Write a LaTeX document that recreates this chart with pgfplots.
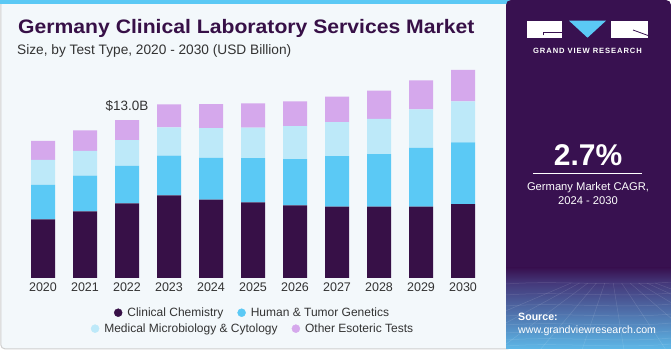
\documentclass[border=0pt]{standalone}
\usepackage{pgfplots}
\pgfplotsset{compat=1.18}
\usepackage{fontspec}
\setmainfont{Liberation Sans}
\definecolor{cc}{HTML}{371047}
\definecolor{htg}{HTML}{5BC9F5}
\definecolor{mmc}{HTML}{BDE9F9}
\definecolor{oet}{HTML}{D5A8EC}
\definecolor{bgl}{HTML}{F3F8FB}
\definecolor{panel}{HTML}{381150}
\definecolor{panelmid}{HTML}{44387A}
\definecolor{panelbot}{HTML}{5DB8E8}
\definecolor{txt}{HTML}{333333}
\definecolor{bord}{HTML}{CFCFCF}
\begin{document}
\begin{tikzpicture}[x=1pt,y=1pt]
\fill[white] (0,0) rectangle (671,350);
\fill[bgl, draw=bord, line width=1pt, rounded corners=4pt] (0.8,1.2) rectangle (512,349.5);
\fill[htg] (0,346) rectangle (510,350);
% right panel
\fill[panel, rounded corners=5pt] (506,1) rectangle (671,350);
\shade[top color=panel, bottom color=panelmid] (506,67) rectangle (671,82);
\shade[top color=panelmid, bottom color=panelbot] (506,1) rectangle (671,67);
\begin{scope}
\clip (506,1) rectangle (671,67);
\foreach \yy in {4,10,17,25,34,44,55,66} {\draw[white, opacity=0.13, line width=0.5pt] (506,\yy) .. controls (560,\yy+4) and (620,\yy-3) .. (671,\yy+2);}
\foreach \xx in {-60,-30,0,30,60,90,120,150,180,210,240} {\draw[white, opacity=0.13, line width=0.5pt] (588+\xx*0.28,67) -- (588+\xx*1.4-90,0);}
\end{scope}
% logo
\fill[white] (527,329.3) rectangle (562,312.3);
\draw[panel, line width=0.8pt] (543,314.5) -- (543,318) -- (561.5,318);
\fill[htg] (569,329.3) -- (606,329.3) -- (587.5,312.3) -- cycle;
\fill[white] (611,329.3) rectangle (648,312.3);
\draw[panel, line width=0.8pt] (633,320) -- (648,314.5);
\node[white, font=\fontsize{7.6}{9}\selectfont\bfseries\addfontfeatures{LetterSpace=12}, anchor=base] at (587.5,296.5) {GRAND VIEW RESEARCH};
\node[white, font=\fontsize{30}{34}\selectfont\bfseries, anchor=base] at (588,184.3) {2.7\%};
\draw[white, line width=1pt] (533,176.3) -- (642,176.3);
\node[white, font=\fontsize{11.2}{13}\selectfont, anchor=base] at (588,159.3) {Germany Market CAGR,};
\node[white, font=\fontsize{11.2}{13}\selectfont, anchor=base] at (588,145) {2024 - 2030};
\node[white, font=\fontsize{10.6}{12}\selectfont\bfseries, anchor=base west, inner sep=0pt] at (518,29.3) {Source:};
\node[white, font=\fontsize{10.6}{12}\selectfont, anchor=base west, inner sep=0pt] at (518,16) {www.grandviewresearch.com};
% titles
\node[cc, font=\fontsize{19.5}{22}\selectfont\bfseries, anchor=base west, inner sep=0pt] at (18,316) {\scalebox{1.085}[1]{Germany Clinical Laboratory Services Market}};
\node[txt, font=\fontsize{13.7}{16}\selectfont, anchor=base west, inner sep=0pt] at (17,295.7) {Size, by Test Type, 2020 - 2030 (USD Billion)};
\begin{axis}[
  at={(22pt,72pt)}, anchor=south west,
  scale only axis, width=462pt, height=218.34pt,
  ybar stacked, bar width=24pt,
  xmin=-0.5, xmax=10.5, ymin=0, ymax=18,
  axis line style={draw=none}, major tick length=0pt,
  ytick=\empty,
  xtick={0,...,10},
  xticklabels={2020,2021,2022,2023,2024,2025,2026,2027,2028,2029,2030},
  xticklabel style={font=\fontsize{12.5}{14}\selectfont, text=txt, yshift=-1.5pt},
  legend style={at={(0.499,-0.159)}, anchor=center, draw=none, fill=none,
    font=\fontsize{12}{14}\selectfont, text=txt,
    /tikz/every odd column/.append style={column sep=3pt},
    /tikz/every even column/.append style={column sep=12pt}},
  legend columns=-1,
  legend image code/.code={\fill (4pt,0pt) circle (4pt);},
]
\addplot[fill=cc, draw=none, forget plot] coordinates {(0,4.84)(1,5.50)(2,6.16)(3,6.82)(4,6.46)(5,6.24)(6,5.99)(7,5.88)(8,5.88)(9,5.88)(10,6.08)};
\addplot[fill=htg, draw=none, forget plot] coordinates {(0,2.83)(1,2.93)(2,3.08)(3,3.26)(4,3.44)(5,3.65)(6,3.82)(7,4.17)(8,4.34)(9,4.84)(10,5.11)};
\addplot[fill=mmc, draw=none, forget plot] coordinates {(0,2.06)(1,2.06)(2,2.12)(3,2.34)(4,2.45)(5,2.50)(6,2.72)(7,2.80)(8,2.89)(9,3.19)(10,3.38)};
\addplot[fill=oet, draw=none, forget plot] coordinates {(0,1.57)(1,1.68)(2,1.65)(3,1.90)(4,1.98)(5,2.01)(6,2.04)(7,2.11)(8,2.33)(9,2.39)(10,2.58)};
\addlegendimage{cc, fill=cc}
\addlegendentry{Clinical Chemistry}
\addlegendimage{htg, fill=htg}
\addlegendentry{Human \& Tumor Genetics}
\node[txt, font=\fontsize{13.5}{16}\selectfont, anchor=base] at (axis cs:2,13.0) [yshift=10pt] {\$13.0B};
\end{axis}
\begin{axis}[
  at={(22pt,72pt)}, anchor=south west,
  scale only axis, width=462pt, height=218.34pt,
  xmin=-0.5, xmax=10.5, ymin=0, ymax=18, hide axis,
  legend style={at={(0.5,-0.232)}, anchor=center, draw=none, fill=none,
    font=\fontsize{12}{14}\selectfont, text=txt,
    /tikz/every odd column/.append style={column sep=3pt},
    /tikz/every even column/.append style={column sep=12pt}},
  legend columns=-1,
  legend image code/.code={\fill (4pt,0pt) circle (4pt);},
]
\addlegendimage{mmc, fill=mmc}
\addlegendentry{Medical Microbiology \& Cytology}
\addlegendimage{oet, fill=oet}
\addlegendentry{Other Esoteric Tests}
\end{axis}
\end{tikzpicture}
\end{document}
